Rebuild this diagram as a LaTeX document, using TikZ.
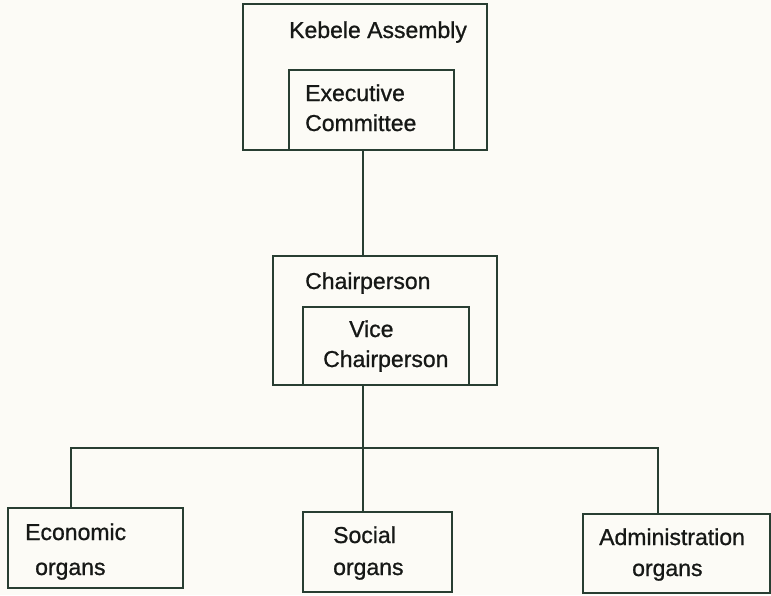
\documentclass[tikz,border=0pt]{standalone}
\usepackage{fontspec}
\setmainfont{Liberation Sans}
\newfontfamily\labelfont[FakeBold=0.9]{Liberation Sans}
\definecolor{linecol}{RGB}{40,62,50}
\definecolor{inkcol}{RGB}{22,24,22}
\definecolor{papercol}{RGB}{252,251,246}
\begin{document}
\begin{tikzpicture}[x=1pt,y=-1pt,
  frame/.style={draw=linecol, line width=1.5pt, inner sep=0pt},
  wire/.style={draw=linecol, line width=1.3pt},
  lbl/.style={anchor=base west, inner sep=0pt, text=inkcol,
              font=\labelfont\fontsize{23}{28}\selectfont}]
  % paper
  \fill[papercol] (0,0) rectangle (771,595);
  \useasboundingbox (0,0) rectangle (771,595);

  % boxes
  \node[frame, minimum width=244, minimum height=146] (kebele) at (365,77) {};
  \node[frame, minimum width=165, minimum height=80]  (exec)   at (371.5,110) {};
  \node[frame, minimum width=224, minimum height=129] (chair)  at (385,320.5) {};
  \node[frame, minimum width=166, minimum height=78]  (vice)   at (386,346) {};
  \node[frame, minimum width=175, minimum height=80]  (econ)   at (95.5,548) {};
  \node[frame, minimum width=149, minimum height=80]  (social) at (377.5,552) {};
  \node[frame, minimum width=187, minimum height=79]  (admin)  at (676.5,553.5) {};

  % labels
  \node[lbl] (tkebele) at (289,38)  {Kebele Assembly};
  \node[lbl] (texec1)  at (305,101) {Executive};
  \node[lbl] (texec2)  at (305,131) {Committee};
  \node[lbl] (tchair)  at (305,289) {Chairperson};
  \node[lbl] (tvice1)  at (349,337) {Vice};
  \node[lbl] (tvice2)  at (323,367) {Chairperson};
  \node[lbl] (tecon1)  at (25,540)  {Economic};
  \node[lbl] (tecon2)  at (35,575)  {organs};
  \node[lbl] (tsoc1)   at (333,543) {Social};
  \node[lbl] (tsoc2)   at (333,575) {organs};
  \node[lbl] (tadm1)   at (599,545) {Administration};
  \node[lbl] (tadm2)   at (632,576) {organs};

  % connector guides
  \coordinate (spine)     at (363,0);
  \coordinate (bus)       at (0,448);
  \coordinate (econdrop)  at (71,0);
  \coordinate (admindrop) at (658,0);

  % connectors
  \draw[wire] (kebele.south -| spine) -- (chair.north -| spine);
  \draw[wire] (chair.south -| spine) -- (bus -| spine);
  \draw[wire] (econ.north -| econdrop) |- (bus -| admindrop)
              -- (admin.north -| admindrop);
  \draw[wire] (bus -| spine) -- (social.north -| spine);
\end{tikzpicture}
\end{document}
